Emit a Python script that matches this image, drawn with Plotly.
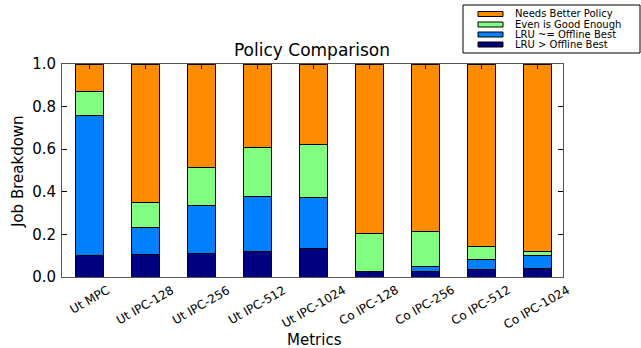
import plotly.graph_objects as go

categories = ["Ut MPC", "Ut IPC-128", "Ut IPC-256", "Ut IPC-512", "Ut IPC-1024",
              "Co IPC-128", "Co IPC-256", "Co IPC-512", "Co IPC-1024"]
lru_gt_best = [0.100, 0.105, 0.110, 0.122, 0.136, 0.027, 0.027, 0.033, 0.038]
lru_eq_best = [0.659, 0.128, 0.225, 0.257, 0.239, 0.000, 0.021, 0.050, 0.065]
even_good = [0.113, 0.118, 0.177, 0.228, 0.246, 0.175, 0.165, 0.061, 0.017]
needs_better = [round(1 - a - b - c, 3) for a, b, c in zip(lru_gt_best, lru_eq_best, even_good)]
y_ticks = [0.0, 0.2, 0.4, 0.6, 0.8, 1.0]
y_tick_labels = ["0.0", "0.2", "0.4", "0.6", "0.8", "1.0"]

series = [
    ("LRU > Offline Best", lru_gt_best, "#000080"),
    ("LRU ~= Offline Best", lru_eq_best, "#0080FF"),
    ("Even is Good Enough", even_good, "#80FF80"),
    ("Needs Better Policy", needs_better, "#FF8C00"),
]

W, H = 641, 348
L, R, T, B = 62, 563, 64, 277


def px(x):
    return (x - L) / (R - L)


def py(y):
    return (B - y) / (B - T)


fig = go.Figure()
x = list(range(len(categories)))
for name, vals, color in series:
    fig.add_trace(go.Bar(x=x, y=vals, name=name, width=0.5, showlegend=False,
                         marker=dict(color=color, line=dict(color="black", width=1))))

font = "DejaVu Sans"
shapes = [dict(type="rect", xref="paper", yref="paper",
               x0=px(463), x1=px(640), y0=py(53), y1=py(5),
               line=dict(color="black", width=1), fillcolor="white", layer="above")]
annotations = []
rows_y = [14, 24.5, 34.5, 44.5]
for (name, vals, color), ry in zip(reversed(series), rows_y):
    shapes.append(dict(type="rect", xref="paper", yref="paper",
                       x0=px(478), x1=px(503), y0=py(ry + 2.5), y1=py(ry - 2.5),
                       line=dict(color="black", width=1), fillcolor=color, layer="above"))
    annotations.append(dict(text=name, xref="paper", yref="paper", x=px(513), y=py(ry),
                            xanchor="left", yanchor="middle", showarrow=False,
                            font=dict(size=10, family=font, color="black")))

# rotated category labels, centred under each tick (matplotlib style)
for i, cat in enumerate(categories):
    annotations.append(dict(text=cat, xref="x", yref="paper", x=i, y=py(280),
                            xanchor="center", yanchor="top", textangle=-30,
                            showarrow=False, font=dict(size=12, family=font, color="black")))

annotations.append(dict(text="Metrics", xref="paper", yref="paper", x=px(314), y=py(340),
                        xanchor="center", yanchor="middle", showarrow=False,
                        font=dict(size=15, family=font, color="black")))
annotations.append(dict(text="Job Breakdown", xref="paper", yref="paper", x=px(18), y=py(172),
                        xanchor="center", yanchor="middle", textangle=-90, showarrow=False,
                        font=dict(size=15, family=font, color="black")))

fig.update_layout(
    barmode="stack",
    width=W, height=H,
    margin=dict(l=L, r=W - R, t=T, b=H - B, autoexpand=False),
    paper_bgcolor="white", plot_bgcolor="white",
    font=dict(family=font, color="black"),
    title=dict(text="Policy Comparison", x=312 / W, xanchor="center", y=1 - 50 / H, yanchor="middle",
               font=dict(size=17)),
    showlegend=False,
    shapes=shapes,
    annotations=annotations,
)
fig.update_xaxes(
    tickmode="array", tickvals=x, ticktext=[""] * len(x),
    range=[-0.49, 8.46], showgrid=False, zeroline=False,
    showline=True, linecolor="#555555", linewidth=1, mirror="ticks",
    ticks="inside", ticklen=5, tickcolor="black",
)
fig.update_yaxes(
    range=[0, 1.0], tickvals=y_ticks, ticktext=y_tick_labels,
    showgrid=False, zeroline=False,
    showline=True, linecolor="#555555", linewidth=1, mirror="ticks",
    ticks="inside", ticklen=5, tickcolor="black",
    tickfont=dict(size=15), ticklabelstandoff=2,
)
fig.write_html("out.html", config={"displayModeBar": False},
               post_script="document.body.style.margin='0';document.body.style.overflow='hidden';")
